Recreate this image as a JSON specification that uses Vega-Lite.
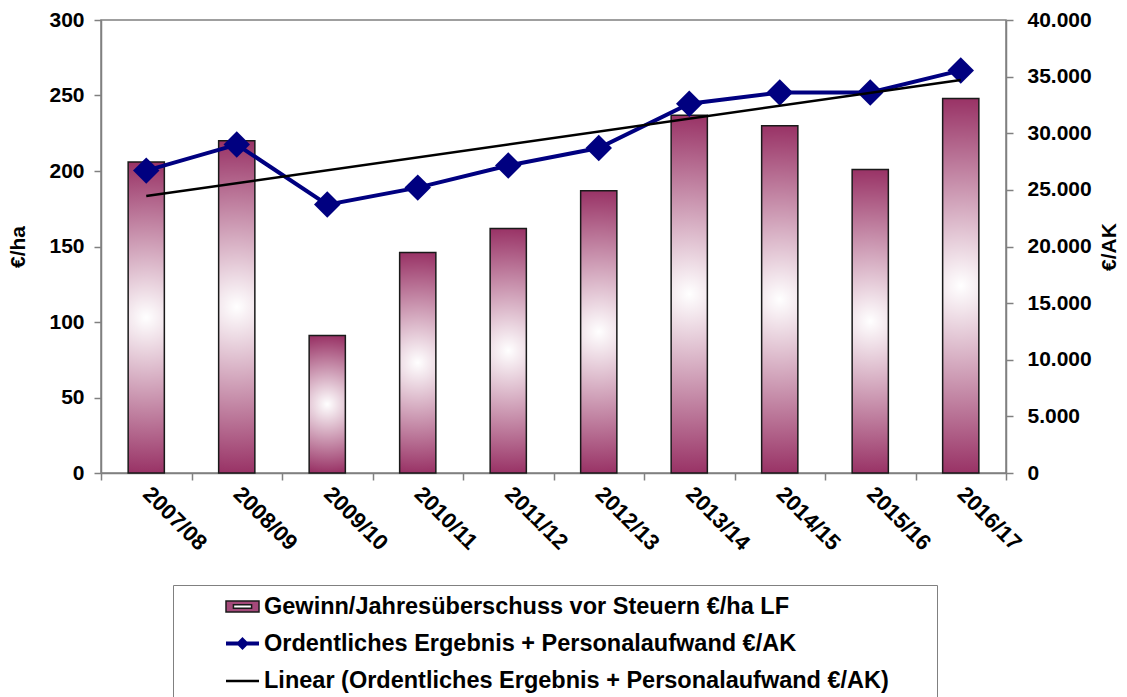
{
  "$schema": "https://vega.github.io/schema/vega-lite/v6.json",
  "width": 905,
  "height": 453,
  "autosize": {"type": "none"},
  "padding": {"left": 101, "top": 20, "right": 121, "bottom": 224},
  "background": "white",
  "config": {
    "font": "Liberation Sans",
    "view": {"stroke": "#808080", "strokeWidth": 1.5},
    "axis": {
      "labelFont": "Liberation Sans", "labelFontSize": 21, "labelFontWeight": "bold", "labelColor": "#000000",
      "titleFont": "Liberation Sans", "titleFontSize": 21, "titleFontWeight": "bold", "titleColor": "#000000",
      "domainColor": "#808080", "domainWidth": 1.5, "tickColor": "#808080", "tickWidth": 1.5, "tickSize": 7, "grid": false
    },
    "legend": {
      "orient": "none", "legendX": 72, "legendY": 565, "direction": "vertical",
      "labelFont": "Liberation Sans", "labelFontSize": 23.5, "labelFontWeight": "bold", "labelColor": "#000000",
      "labelLimit": 0, "labelOffset": 3, "padding": 4, "rowPadding": 7,
      "strokeColor": "#808080", "fillColor": "#ffffff", "symbolOffset": 47, "symbolSize": 1089,
      "titleOrient": "right", "titlePadding": 44, "titleFontSize": 20
    }
  },
  "data": {
    "values": [
      {"year": "2007/08", "gewinn": 206, "ak": 26700, "trend": 24450},
      {"year": "2008/09", "gewinn": 220, "ak": 29000},
      {"year": "2009/10", "gewinn": 91, "ak": 23700},
      {"year": "2010/11", "gewinn": 146, "ak": 25200},
      {"year": "2011/12", "gewinn": 162, "ak": 27150},
      {"year": "2012/13", "gewinn": 187, "ak": 28700},
      {"year": "2013/14", "gewinn": 237, "ak": 32600},
      {"year": "2014/15", "gewinn": 230, "ak": 33600},
      {"year": "2015/16", "gewinn": 201, "ak": 33600},
      {"year": "2016/17", "gewinn": 248, "ak": 35550, "trend": 34700}
    ]
  },
  "layer": [
    {
      "mark": {
        "type": "bar",
        "width": {"band": 0.4},
        "fill": {"gradient": "radial", "x1": 0.5, "y1": 0.5, "r1": 0, "x2": 0.5, "y2": 0.5, "r2": 0.5,
          "stops": [{"offset": 0, "color": "#ffffff"}, {"offset": 1, "color": "#993366"}]},
        "stroke": "#1a1a1a",
        "strokeWidth": 1.5
      },
      "encoding": {
        "x": {"field": "year", "type": "ordinal", "sort": null,
          "scale": {"paddingInner": 0, "paddingOuter": 0},
          "axis": {"title": null, "labelAngle": 45, "labelAlign": "left", "labelBaseline": "middle", "labelPadding": 10, "labelFontSize": 22, "tickBand": "extent"}},
        "y": {"field": "gewinn", "type": "quantitative",
          "scale": {"domain": [0, 300], "nice": false},
          "axis": {"title": "€/ha", "values": [0, 50, 100, 150, 200, 250, 300], "labelPadding": 10, "titlePadding": 20}}
      }
    },
    {
      "layer": [
        {
          "mark": {"type": "line", "strokeWidth": 4, "color": "#000080", "point": {"shape": "diamond", "size": 700, "filled": true, "opacity": 1, "color": "#000080"}},
          "encoding": {
            "x": {"field": "year", "type": "ordinal", "sort": null},
            "y": {"field": "ak", "type": "quantitative",
              "scale": {"domain": [0, 40000], "nice": false},
              "axis": {"orient": "right", "title": "€/AK", "values": [0, 5000, 10000, 15000, 20000, 25000, 30000, 35000, 40000],
                "labelExpr": "replace(format(datum.value, ','), ',', '.')", "labelPadding": 14, "titleAngle": 270, "titleBaseline": "top", "titlePadding": 7}}
          }
        },
        {
          "transform": [{"filter": "isValid(datum.trend)"}],
          "mark": {"type": "line", "strokeWidth": 2.5, "color": "#000000"},
          "encoding": {
            "x": {"field": "year", "type": "ordinal", "sort": null},
            "y": {"field": "trend", "type": "quantitative"}
          }
        }
      ]
    },
    {
      "transform": [{"filter": "false"}],
      "mark": {"type": "point", "filled": true, "opacity": 1},
      "encoding": {
        "fill": {
          "datum": "Gewinn/Jahresüberschuss vor Steuern €/ha LF", "type": "nominal",
          "scale": {
            "domain": ["Gewinn/Jahresüberschuss vor Steuern €/ha LF", "Ordentliches Ergebnis + Personalaufwand €/AK", "Linear (Ordentliches Ergebnis + Personalaufwand €/AK)"],
            "range": ["#a4497a", "#000080", "transparent"]
          },
          "legend": {"title": "\u00a0"}
        },
        "stroke": {
          "datum": "Gewinn/Jahresüberschuss vor Steuern €/ha LF", "type": "nominal",
          "scale": {
            "domain": ["Gewinn/Jahresüberschuss vor Steuern €/ha LF", "Ordentliches Ergebnis + Personalaufwand €/AK", "Linear (Ordentliches Ergebnis + Personalaufwand €/AK)"],
            "range": ["#1a1a1a", "#000080", "#000000"]
          },
          "legend": {"title": "\u00a0"}
        },
        "shape": {
          "datum": "Gewinn/Jahresüberschuss vor Steuern €/ha LF", "type": "nominal",
          "scale": {
            "domain": ["Gewinn/Jahresüberschuss vor Steuern €/ha LF", "Ordentliches Ergebnis + Personalaufwand €/AK", "Linear (Ordentliches Ergebnis + Personalaufwand €/AK)"],
            "range": ["M-1,-0.33H1V0.33H-1ZM-0.55,-0.1V0.1H0.55V-0.1Z", "M-1,0H1M0,-0.22L0.22,0L0,0.22L-0.22,0Z", "M-1,0H1"]
          },
          "legend": {"title": "\u00a0"}
        },
        "strokeWidth": {
          "datum": "Gewinn/Jahresüberschuss vor Steuern €/ha LF", "type": "nominal",
          "scale": {
            "type": "ordinal",
            "domain": ["Gewinn/Jahresüberschuss vor Steuern €/ha LF", "Ordentliches Ergebnis + Personalaufwand €/AK", "Linear (Ordentliches Ergebnis + Personalaufwand €/AK)"],
            "range": [1.5, 4, 2.5]
          },
          "legend": {"title": "\u00a0"}
        }
      }
    }
  ],
  "resolve": {"scale": {"y": "independent"}}
}
